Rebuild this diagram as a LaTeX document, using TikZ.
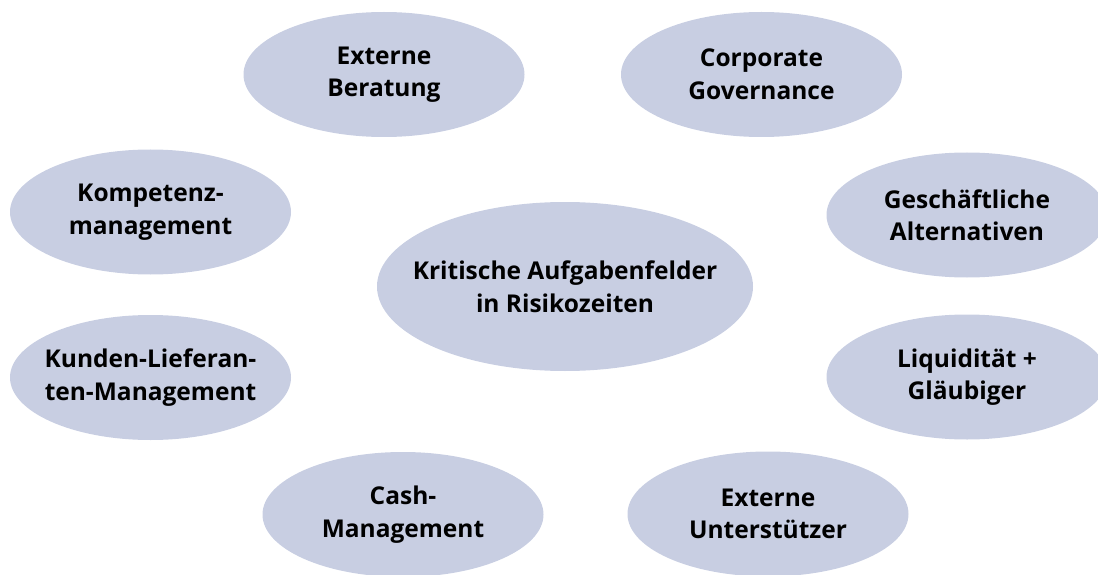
\documentclass[tikz,border=0pt]{standalone}
\usepackage{fontspec}
\setmainfont{Open Sans}
\usetikzlibrary{shapes.geometric}
\definecolor{fieldfill}{RGB}{200,206,226}
\tikzset{
  field/.style={ellipse, fill=fieldfill, draw=none, inner sep=0pt,
    minimum width=281pt, minimum height=125pt},
  core/.style={field, minimum width=376pt, minimum height=169pt},
  caption/.style={align=center, inner sep=0pt, text=black,
    font=\fontsize{24.5}{32.5}\selectfont\bfseries}
}
\begin{document}
\begin{tikzpicture}[x=1pt,y=-1pt]
  \useasboundingbox (0,0) rectangle (1098,575);
  \begin{scope}
    \clip (0,0) rectangle (1098,575);
    % ellipses
    \node[core]  (center) at (565,286.5) {};
    \node[field] (beratung) at (384,74.5) {};
    \node[field] (governance) at (761.5,74.5) {};
    \node[field] (kompetenz) at (150.5,212) {};
    \node[field] (alternativen) at (967,215) {};
    \node[field] (kunden) at (150.5,377.5) {};
    \node[field] (liquiditaet) at (967,377) {};
    \node[field] (cash) at (403,514.5) {};
    \node[field] (unterstuetzer) at (768,514) {};
    % labels
    \node[caption] (centerlabel) at (center) {Kritische Aufgabenfelder\\in Risikozeiten};
    \node[caption] (beratunglabel) at (beratung) {Externe\\Beratung};
    \node[caption] (governancelabel) at (governance) {Corporate\\Governance};
    \node[caption] (kompetenzlabel) at (kompetenz) {Kompetenz-\\management};
    \node[caption] (alternativenlabel) at (alternativen) {Geschäftliche\\Alternativen};
    \node[caption] (kundenlabel) at (kunden) {Kunden-Lieferan-\\ten-Management};
    \node[caption] (liquiditaetlabel) at (liquiditaet) {Liquidität +\\Gläubiger};
    \node[caption] (cashlabel) at (cash) {Cash-\\Management};
    \node[caption] (unterstuetzerlabel) at (unterstuetzer) {Externe\\Unterstützer};
  \end{scope}
\end{tikzpicture}
\end{document}
